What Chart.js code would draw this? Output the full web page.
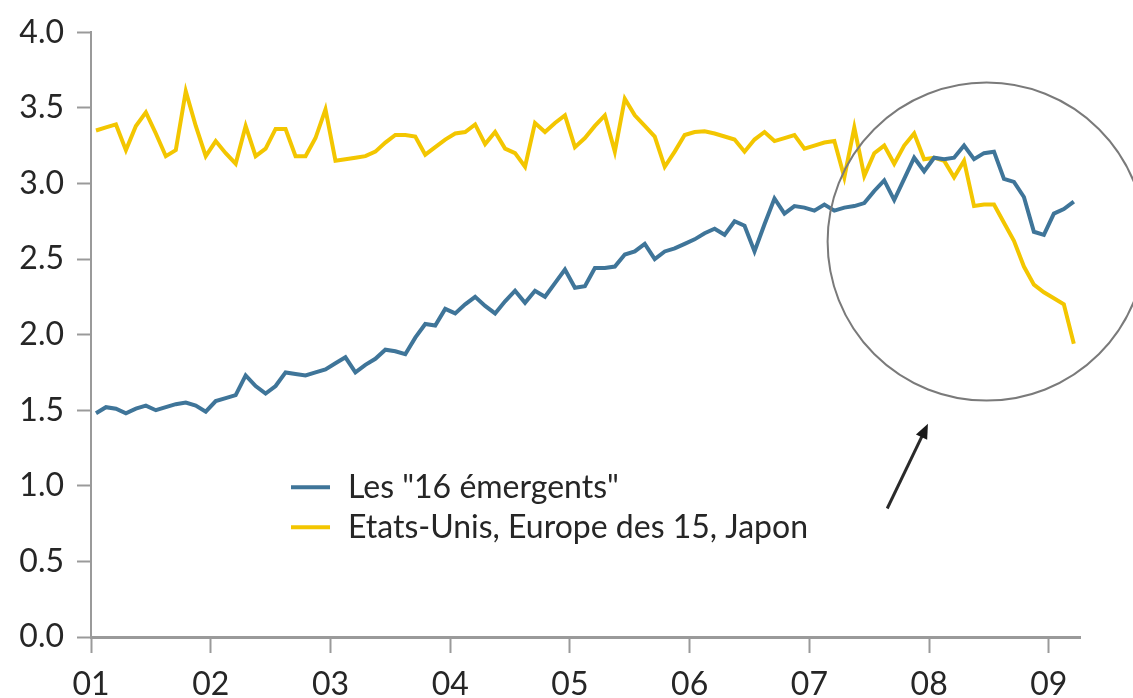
<!DOCTYPE html>
<html>
<head>
<meta charset="utf-8">
<script src="https://cdn.jsdelivr.net/npm/chart.js@4.4.1/dist/chart.umd.min.js"></script>
<style>
  html, body { margin: 0; padding: 0; background: #ffffff; }
  #wrap { width: 1133px; height: 698px; }
</style>
</head>
<body>
<div id="wrap"><canvas id="mainChart" width="1133" height="698"></canvas></div>
<script>
// Monthly series, Jan 2001 - Mar 2009
const emergents = [
    1.48, 1.52, 1.51, 1.48, 1.51, 1.53, 1.50, 1.52, 1.54, 1.55, 1.53, 1.49,
    1.56, 1.58, 1.60, 1.73, 1.66, 1.61, 1.66, 1.75, 1.74, 1.73, 1.75, 1.77,
    1.81, 1.85, 1.75, 1.80, 1.84, 1.90, 1.89, 1.87, 1.98, 2.07, 2.06, 2.17,
    2.14, 2.20, 2.25, 2.19, 2.14, 2.22, 2.29, 2.21, 2.29, 2.25, 2.34, 2.43,
    2.31, 2.32, 2.44, 2.44, 2.45, 2.53, 2.55, 2.60, 2.50, 2.55, 2.57, 2.60,
    2.63, 2.67, 2.70, 2.66, 2.75, 2.72, 2.55, 2.73, 2.90, 2.80, 2.85, 2.84,
    2.82, 2.86, 2.82, 2.84, 2.85, 2.87, 2.95, 3.02, 2.89, 3.03, 3.17, 3.08,
    3.17, 3.16, 3.17, 3.25, 3.16, 3.20, 3.21, 3.03, 3.01, 2.91, 2.68, 2.66,
    2.80, 2.83, 2.88
];
const developed = [
    3.35, 3.37, 3.39, 3.22, 3.38, 3.47, 3.33, 3.18, 3.22, 3.61, 3.38, 3.18,
    3.28, 3.20, 3.13, 3.38, 3.18, 3.23, 3.36, 3.36, 3.18, 3.18, 3.30, 3.49,
    3.15, 3.16, 3.17, 3.18, 3.21, 3.27, 3.32, 3.32, 3.31, 3.19, 3.24, 3.29,
    3.33, 3.34, 3.39, 3.26, 3.34, 3.23, 3.20, 3.11, 3.40, 3.34, 3.40, 3.45,
    3.24, 3.30, 3.38, 3.45, 3.21, 3.56, 3.45, 3.38, 3.31, 3.11, 3.21, 3.32,
    3.34, 3.345, 3.33, 3.31, 3.29, 3.21, 3.29, 3.34, 3.28, 3.30, 3.32, 3.23,
    3.25, 3.27, 3.28, 3.04, 3.37, 3.05, 3.20, 3.25, 3.13, 3.25, 3.33, 3.16,
    3.17, 3.15, 3.04, 3.15, 2.85, 2.86, 2.86, 2.74, 2.62, 2.45, 2.33, 2.28,
    2.24, 2.20, 1.94
];
const yearTicks = [2001, 2002, 2003, 2004, 2005, 2006, 2007, 2008, 2009];
const yearLabels = ['01', '02', '03', '04', '05', '06', '07', '08', '09'];
const seriesNames = ['Les "16 émergents"', 'Etats-Unis, Europe des 15, Japon'];
const seriesColors = ['#3f7599', '#f3c600'];

const FONT = 'Lato, "Open Sans", sans-serif';
const TEXT_COLOR = '#262626';

// month index -> fractional year (mid-month)
function toPoints(values) {
    return values.map((v, i) => ({ x: 2001 + (i + 0.5) / 12, y: v }));
}

// circle, arrow and in-chart legend
const annotations = {
    id: 'annotations',
    afterDatasetsDraw(chart) {
        const ctx = chart.ctx;
        const xs = chart.scales.x;
        const ys = chart.scales.y;
        ctx.save();

        // circle around 2008
        ctx.beginPath();
        ctx.arc(xs.getPixelForValue(2008.48), ys.getPixelForValue(2.615), 159, 0, Math.PI * 2);
        ctx.strokeStyle = '#7a7a7a';
        ctx.lineWidth = 2;
        ctx.stroke();

        // arrow
        const x0 = xs.getPixelForValue(2007.65), y0 = ys.getPixelForValue(0.85);
        const x1 = xs.getPixelForValue(2007.99), y1 = ys.getPixelForValue(1.41);
        const ang = Math.atan2(y1 - y0, x1 - x0);
        ctx.beginPath();
        ctx.moveTo(x0, y0);
        ctx.lineTo(x1 - 10 * Math.cos(ang), y1 - 10 * Math.sin(ang));
        ctx.strokeStyle = '#2a2a2a';
        ctx.lineWidth = 3;
        ctx.stroke();
        ctx.beginPath();
        ctx.moveTo(x1, y1);
        ctx.lineTo(x1 - 16 * Math.cos(ang - 0.4), y1 - 16 * Math.sin(ang - 0.4));
        ctx.lineTo(x1 - 16 * Math.cos(ang + 0.4), y1 - 16 * Math.sin(ang + 0.4));
        ctx.closePath();
        ctx.fillStyle = '#1a1a1a';
        ctx.fill();

        // legend
        const lx = chart.chartArea.left + 200;
        const ly = chart.chartArea.top + 455;
        ctx.font = '32px ' + FONT;
        ctx.textBaseline = 'middle';
        seriesNames.forEach((name, i) => {
            const y = ly + i * 40;
            ctx.beginPath();
            ctx.moveTo(lx, y);
            ctx.lineTo(lx + 39, y);
            ctx.strokeStyle = seriesColors[i];
            ctx.lineWidth = 4;
            ctx.stroke();
            ctx.fillStyle = TEXT_COLOR;
            ctx.fillText(name, lx + 57, y);
        });
        ctx.restore();
    }
};

const chart = new Chart(document.getElementById('mainChart').getContext('2d'), {
    type: 'line',
    data: {
        datasets: [
            {
                label: seriesNames[0],
                data: toPoints(emergents),
                borderColor: seriesColors[0],
                borderWidth: 4,
                pointRadius: 0,
                tension: 0
            },
            {
                label: seriesNames[1],
                data: toPoints(developed),
                borderColor: seriesColors[1],
                borderWidth: 4,
                pointRadius: 0,
                tension: 0
            }
        ]
    },
    options: {
        responsive: false,
        animation: false,
        layout: { padding: { top: 32, right: 53, left: 0, bottom: 0 } },
        plugins: {
            legend: { display: false },
            tooltip: { enabled: false }
        },
        scales: {
            x: {
                type: 'linear',
                min: 2001,
                max: 2009.26,
                afterBuildTicks: scale => {
                    scale.ticks = yearTicks.map(v => ({ value: v }));
                },
                afterFit: scale => { scale.height = 61; },
                border: { color: '#9a9a9a', width: 3 },
                grid: { drawOnChartArea: false, color: '#9a9a9a', tickLength: 16, tickWidth: 2 },
                ticks: {
                    padding: 12,
                    maxRotation: 0,
                    autoSkip: false,
                    color: TEXT_COLOR,
                    font: { family: FONT, size: 32 },
                    callback: (v, i) => yearLabels[i]
                }
            },
            y: {
                min: 0,
                max: 4,
                afterFit: scale => { scale.width = 91; },
                border: { color: '#9a9a9a', width: 2 },
                grid: { drawOnChartArea: false, color: '#9a9a9a', tickLength: 14, tickWidth: 2 },
                ticks: {
                    stepSize: 0.5,
                    padding: 13,
                    color: TEXT_COLOR,
                    font: { family: FONT, size: 32 },
                    callback: v => v.toFixed(1)
                }
            }
        }
    },
    plugins: [annotations]
});
</script>
</body>
</html>
